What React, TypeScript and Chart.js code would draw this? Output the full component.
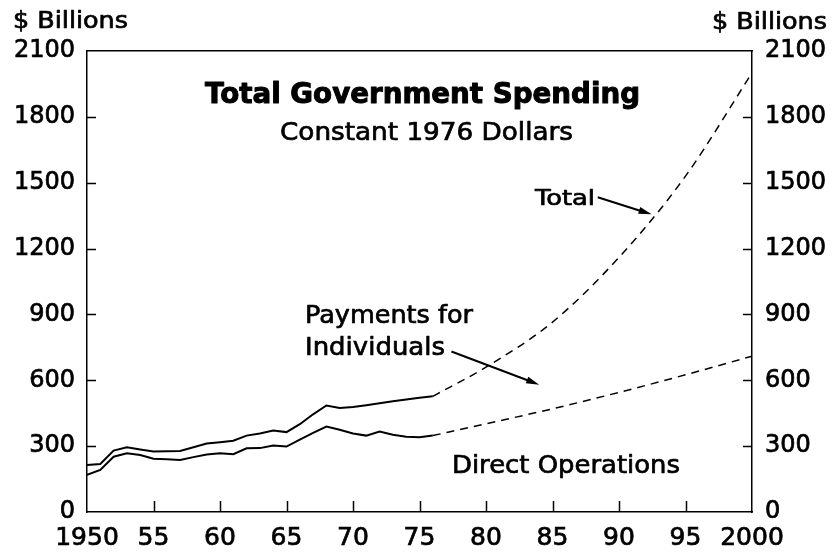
import React, { useEffect, useRef } from 'react';
import { Chart, registerables } from 'chart.js';

Chart.register(...registerables);

// ---- data ----
const histYears = [1950, 1951, 1952, 1953, 1954, 1955, 1956, 1957, 1958, 1959, 1960, 1961, 1962, 1963, 1964, 1965, 1966, 1967, 1968, 1969, 1970, 1971, 1972, 1973, 1974, 1975, 1976];
const totalHist = [214, 219, 280, 295, 285, 276, 277, 278, 295, 312, 318, 325, 348, 358, 371, 364, 400, 445, 485, 474, 478, 486, 495, 505, 513, 520, 527];
const directHist = [169, 192, 252, 268, 260, 243, 240, 237, 250, 262, 268, 263, 290, 291, 303, 298, 330, 360, 389, 375, 358, 348, 367, 352, 343, 340, 348];

const projYears = [1976, 1980, 1985, 1990, 1995, 2000];
const totalProj = [527, 660, 865, 1160, 1530, 2000];
const directProj = [348, 402, 470, 545, 625, 710];

const xTickValues = [1950, 1955, 1960, 1965, 1970, 1975, 1980, 1985, 1990, 1995, 2000];
const xTickLabels = ['1950', '55', '60', '65', '70', '75', '80', '85', '90', '95', '2000'];
const yTickValues = [0, 300, 600, 900, 1200, 1500, 1800, 2100];
const yTickLabels = ['0', '300', '600', '900', '1200', '1500', '1800', '2100'];

const FONT = "'DejaVu Sans'";

function pts(xs: number[], ys: number[]) {
  return xs.map((x, i) => ({ x, y: ys[i] }));
}

function drawFit(ctx: CanvasRenderingContext2D, text: string, x: number, y: number, font: string, width: number, stroke = 0.7) {
  ctx.save();
  ctx.font = font;
  const m = ctx.measureText(text).width;
  const sx = width / m;
  ctx.translate(x, y);
  ctx.scale(sx, 1);
  ctx.textAlign = 'left';
  ctx.textBaseline = 'alphabetic';
  ctx.fillStyle = '#000';
  ctx.strokeStyle = '#000';
  ctx.lineWidth = stroke;
  ctx.lineJoin = 'round';
  ctx.fillText(text, 0, 0);
  if (stroke > 0) ctx.strokeText(text, 0, 0);
  ctx.restore();
}

function arrow(ctx: CanvasRenderingContext2D, x1: number, y1: number, x2: number, y2: number) {
  const ang = Math.atan2(y2 - y1, x2 - x1);
  const len = 13;
  const half = 3.5;
  ctx.save();
  ctx.strokeStyle = '#000';
  ctx.fillStyle = '#000';
  ctx.lineWidth = 2;
  ctx.beginPath();
  ctx.moveTo(x1, y1);
  ctx.lineTo(x2 - Math.cos(ang) * len * 0.8, y2 - Math.sin(ang) * len * 0.8);
  ctx.stroke();
  ctx.beginPath();
  ctx.moveTo(x2, y2);
  ctx.lineTo(x2 - Math.cos(ang) * len + Math.sin(ang) * half, y2 - Math.sin(ang) * len - Math.cos(ang) * half);
  ctx.lineTo(x2 - Math.cos(ang) * len - Math.sin(ang) * half, y2 - Math.sin(ang) * len + Math.cos(ang) * half);
  ctx.closePath();
  ctx.fill();
  ctx.restore();
}

const decorPlugin = {
  id: 'decor',
  afterDraw(chart: any) {
    const ctx: CanvasRenderingContext2D = chart.ctx;
    const xs = chart.scales.x;
    const ys = chart.scales.y;
    const { left, right, bottom } = chart.chartArea;

    // inward tick marks
    ctx.save();
    ctx.strokeStyle = '#000';
    ctx.lineWidth = 1.5;
    ctx.beginPath();
    yTickValues.forEach((v) => {
      if (v === 0 || v === 2100) return;
      const py = Math.round(ys.getPixelForValue(v)) + 0.5;
      ctx.moveTo(left, py);
      ctx.lineTo(left + 9, py);
      ctx.moveTo(right, py);
      ctx.lineTo(right - 9, py);
    });
    xTickValues.forEach((v) => {
      if (v === 1950 || v === 2000) return;
      const px = Math.round(xs.getPixelForValue(v)) + 0.5;
      ctx.moveTo(px, bottom);
      ctx.lineTo(px, bottom - 11);
    });
    ctx.stroke();
    ctx.restore();

    // texts
    drawFit(ctx, '$ Billions', 13, 28, `23px ${FONT}`, 115);
    drawFit(ctx, '$ Billions', 712, 29, `23px ${FONT}`, 115);
    drawFit(ctx, 'Total Government Spending', 205, 103, `bold 28px ${FONT}`, 435, 1);
    drawFit(ctx, 'Constant 1976 Dollars', 280, 140, `25px ${FONT}`, 293);
    drawFit(ctx, 'Total', 535, 205, `22px ${FONT}`, 60);
    drawFit(ctx, 'Payments for', 305, 323, `25px ${FONT}`, 168);
    drawFit(ctx, 'Individuals', 305, 355, `25px ${FONT}`, 140);
    drawFit(ctx, 'Direct Operations', 452, 473, `25px ${FONT}`, 228);

    // arrows (anchored in data space)
    arrow(ctx, xs.getPixelForValue(1988.4), ys.getPixelForValue(1434), xs.getPixelForValue(1992.45), ys.getPixelForValue(1356));
    arrow(ctx, xs.getPixelForValue(1977.4), ys.getPixelForValue(731), xs.getPixelForValue(1984.0), ys.getPixelForValue(580));
  },
};

export default function App() {
  const ref = useRef<HTMLCanvasElement | null>(null);

  useEffect(() => {
    if (!ref.current) return;
    const solid = { borderColor: '#000', borderWidth: 2, pointRadius: 0, fill: false, tension: 0 };
    const dashed = { borderColor: '#000', borderWidth: 1.5, pointRadius: 0, fill: false, borderDash: [8, 6], cubicInterpolationMode: 'monotone' as const };
    const tickFont = { family: 'DejaVu Sans', size: 24 };
    const chart = new Chart(ref.current, {
      type: 'line',
      data: {
        datasets: [
          { label: 'Total', data: pts(histYears, totalHist), ...solid },
          { label: 'Direct Operations', data: pts(histYears, directHist), ...solid },
          { label: 'Total (projected)', data: pts(projYears, totalProj), ...dashed },
          { label: 'Direct Operations (projected)', data: pts(projYears, directProj), ...dashed },
        ],
      },
      options: {
        responsive: false,
        animation: false,
        devicePixelRatio: 1,
        layout: { padding: 0 },
        plugins: { legend: { display: false }, tooltip: { enabled: false }, title: { display: false } },
        scales: {
          x: {
            type: 'linear',
            position: 'bottom',
            min: 1950,
            max: 2000,
            grid: { display: false },
            border: { display: true, color: '#000', width: 1.5 },
            afterBuildTicks: (s: any) => { s.ticks = xTickValues.map((v) => ({ value: v })); },
            ticks: {
              color: '#000',
              font: { family: 'DejaVu Sans', size: 25 },
              textStrokeColor: '#000',
              textStrokeWidth: 0.7,
              padding: 3,
              maxRotation: 0,
              autoSkip: false,
              callback: (v: any) => xTickLabels[xTickValues.indexOf(Number(v))] ?? '',
            },
            afterFit: (s: any) => { s.height = 42; },
          },
          xTop: {
            type: 'linear',
            position: 'top',
            min: 1950,
            max: 2000,
            grid: { display: false },
            border: { display: true, color: '#000', width: 1.5 },
            ticks: { display: false },
            afterFit: (s: any) => { s.height = 51; },
          },
          y: {
            type: 'linear',
            position: 'left',
            min: 0,
            max: 2100,
            grid: { display: false },
            border: { display: true, color: '#000', width: 1.5 },
            afterBuildTicks: (s: any) => { s.ticks = yTickValues.map((v) => ({ value: v })); },
            ticks: {
              color: '#000',
              font: tickFont,
              textStrokeColor: '#000',
              textStrokeWidth: 0.7,
              padding: 4,
              callback: (v: any) => yTickLabels[yTickValues.indexOf(Number(v))] ?? '',
            },
            afterFit: (s: any) => { s.width = 87; },
          },
          yRight: {
            type: 'linear',
            position: 'right',
            min: 0,
            max: 2100,
            grid: { display: false },
            border: { display: true, color: '#000', width: 1.5 },
            afterBuildTicks: (s: any) => { s.ticks = yTickValues.map((v) => ({ value: v })); },
            ticks: {
              color: '#000',
              font: tickFont,
              textStrokeColor: '#000',
              textStrokeWidth: 0.7,
              padding: 5,
              callback: (v: any) => yTickLabels[yTickValues.indexOf(Number(v))] ?? '',
            },
            afterFit: (s: any) => { s.width = 83; },
          },
        },
      },
      plugins: [decorPlugin],
    } as any);
    return () => chart.destroy();
  }, []);

  return (
    <div style={{ position: 'fixed', left: 0, top: 0, width: 835, height: 554, background: '#fff' }}>
      <canvas ref={ref} width={835} height={554} style={{ width: 835, height: 554, display: 'block' }} />
    </div>
  );
}
